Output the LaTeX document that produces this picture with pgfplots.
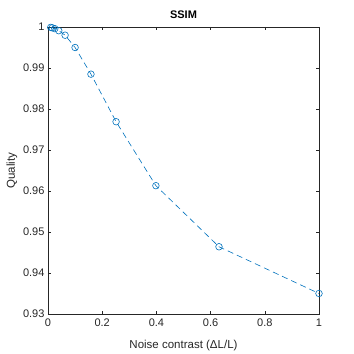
\documentclass[border=0pt]{standalone}
\usepackage{pgfplots}
\pgfplotsset{compat=1.18}
\usepackage{fontspec}
\setmainfont{Liberation Sans}
\definecolor{mblue}{rgb}{0,0.447,0.741}
\definecolor{mgray}{rgb}{0.15,0.15,0.15}
\begin{document}
\begin{tikzpicture}
\begin{axis}[
  scale only axis,
  width=271pt, height=287pt,
  xmin=0, xmax=1, ymin=0.93, ymax=1,
  xtick={0,0.2,...,1}, ytick={0.93,0.94,...,1.001},
  yticklabel style={/pgf/number format/fixed,/pgf/number format/precision=2},
  xticklabel style={/pgf/number format/fixed,/pgf/number format/precision=1, yshift=-1.5pt},
  /pgf/number format/assume math mode=true,
  tick align=inside, tick pos=both,
  major tick length=3pt,
  axis line style={mgray, line width=0.5pt},
  tick style={mgray, line width=0.5pt},
  ticklabel style={font=\fontsize{11}{13}\selectfont, text=mgray},
  title={\textbf{SSIM}},
  title style={font=\fontsize{11}{13}\selectfont, yshift=-1pt},
  xlabel={Noise contrast (ΔL/L)},
  ylabel={Quality},
  label style={font=\fontsize{11.5}{13}\selectfont, text=mgray},
  xlabel style={yshift=-6pt},
  ylabel style={yshift=-1pt},
  clip=false,
]
\addplot[mblue, line width=0.6pt, dash pattern=on 6pt off 4pt,
  mark=o, mark size=3.3pt, mark options={solid, line width=0.6pt}]
coordinates {
(0.01,0.9999) (0.0158,0.9998) (0.0251,0.9996) (0.0398,0.9991)
(0.0631,0.9980) (0.1,0.9950) (0.1585,0.9885) (0.2512,0.9769)
(0.3981,0.9613) (0.631,0.9464) (1.0,0.9350)
};
\end{axis}
\path ([xshift=-48pt,yshift=-40pt]current axis.south west) rectangle ([xshift=35pt,yshift=27pt]current axis.north east);
\end{tikzpicture}
\end{document}
